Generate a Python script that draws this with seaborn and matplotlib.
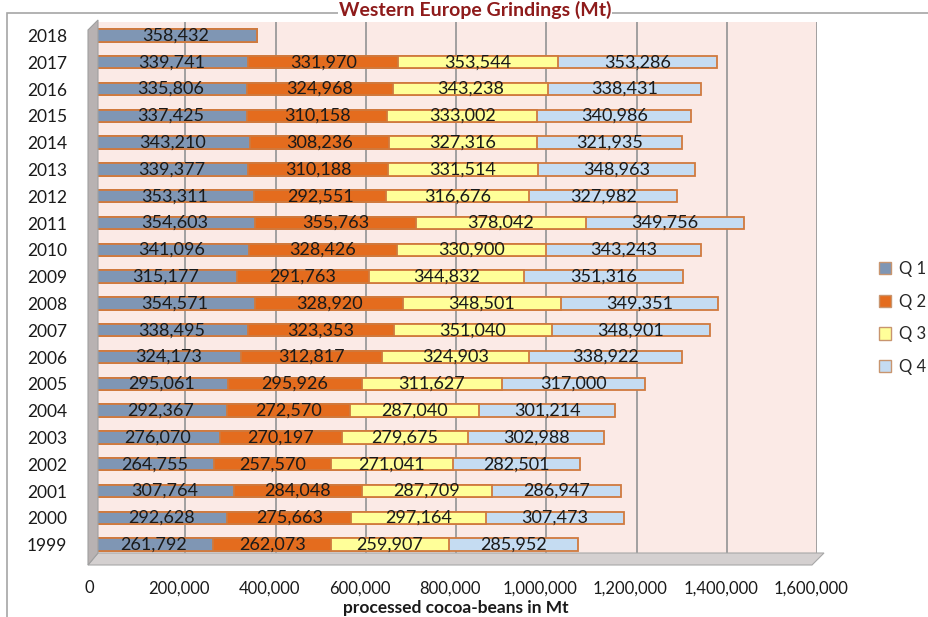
import numpy as np
import pandas as pd
import matplotlib.pyplot as plt
import seaborn as sns
from matplotlib.patches import Patch, Polygon, Rectangle
from matplotlib.ticker import FuncFormatter
from matplotlib.transforms import ScaledTranslation

# Grindings per quarter (Mt), Western Europe
years = [1999, 2000, 2001, 2002, 2003, 2004, 2005, 2006, 2007, 2008,
         2009, 2010, 2011, 2012, 2013, 2014, 2015, 2016, 2017, 2018]
q1 = [261792, 292628, 307764, 264755, 276070, 292367, 295061, 324173, 338495, 354571,
      315177, 341096, 354603, 353311, 339377, 343210, 337425, 335806, 339741, 358432]
q2 = [262073, 275663, 284048, 257570, 270197, 272570, 295926, 312817, 323353, 328920,
      291763, 328426, 355763, 292551, 310188, 308236, 310158, 324968, 331970, np.nan]
q3 = [259907, 297164, 287709, 271041, 279675, 287040, 311627, 324903, 351040, 348501,
      344832, 330900, 378042, 316676, 331514, 327316, 333002, 343238, 353544, np.nan]
q4 = [285952, 307473, 286947, 282501, 302988, 301214, 317000, 338922, 348901, 349351,
      351316, 343243, 349756, 327982, 348963, 321935, 340986, 338431, 353286, np.nan]

quarters = ["Q 1", "Q 2", "Q 3", "Q 4"]
colors = ["#7f96b4", "#e46c1e", "#ffff99", "#c5dcf2"]
edge = "#d07a3e"

df = pd.DataFrame({"year": [str(y) for y in years],
                   "Q 1": q1, "Q 2": q2, "Q 3": q3, "Q 4": q4})
cum = df[quarters].fillna(0).cumsum(axis=1)
cum["year"] = df["year"]
order = [str(y) for y in sorted(years, reverse=True)]

sns.set_theme(style="white")
plt.rcParams["font.family"] = ["Lato", "DejaVu Sans"]

W, H = 929, 617
fig = plt.figure(figsize=(W / 100, H / 100), dpi=100)
ax = fig.add_axes([95 / W, 1 - 558 / H, (817 - 95) / W, (558 - 22) / H])

# pseudo-3D walls and outer frame
fig.patches.append(Rectangle((7 / W, -0.1), 1.0, 1 - 13 / H + 0.1, transform=fig.transFigure,
                             fill=False, ec="#a6a6a6", lw=1.2, zorder=0))
fig.patches.append(Polygon([(88 / W, 1 - 565 / H), (812 / W, 1 - 565 / H), (824 / W, 1 - 553 / H),
                            (98 / W, 1 - 553 / H)], closed=True, transform=fig.transFigure,
                           fc="#d4d0d0", ec="#a8a8a8", lw=0.8, zorder=0))
fig.patches.append(Polygon([(88 / W, 1 - 565 / H), (88 / W, 1 - 30 / H), (98 / W, 1 - 20 / H),
                            (98 / W, 1 - 553 / H)], closed=True, transform=fig.transFigure,
                           fc="#b8b2b2", ec="#a0a0a0", lw=0.8, zorder=0))

# stacked bars: draw cumulative totals from the last quarter down to the first
for i in range(len(quarters) - 1, -1, -1):
    sns.barplot(data=cum, x=quarters[i], y="year", order=order, orient="h",
                color=colors[i], saturation=1, edgecolor=edge, linewidth=1.3,
                width=0.46, errorbar=None, ax=ax, zorder=3)

# value labels centred in each segment
for _, row in df.iterrows():
    yi = order.index(row["year"])
    left = 0
    for q in quarters:
        v = row[q]
        if pd.isna(v):
            continue
        ax.text(left + v / 2, yi, f"{int(v):,}", ha="center", va="center",
                fontsize=13, color="#1a1a1a", zorder=4)
        left += v

ax.set_xlim(0, 1600000)
ax.set_ylim(len(order) - 0.5, -0.5)
ax.set_facecolor("#fbeae6")
ax.set_axisbelow(True)
ax.xaxis.grid(True, color="#9a9a9a", lw=1.3)
ax.yaxis.grid(False)
for s in ax.spines.values():
    s.set_visible(False)

ax.xaxis.set_major_formatter(FuncFormatter(lambda x, p: f"{x:,.0f}"))
ax.set_xticks(np.arange(0, 1600001, 200000))
ax.tick_params(axis="x", length=0, pad=16, labelsize=12, colors="#1a1a1a")
ax.tick_params(axis="y", length=0, pad=20, labelsize=12.5, colors="#1a1a1a")
shift = ScaledTranslation(-0.06, 0, fig.dpi_scale_trans)
for lab in ax.get_xticklabels():
    lab.set_transform(lab.get_transform() + shift)
ax.set_ylabel("")
ax.set_xlabel("processed cocoa-beans in Mt", fontsize=12.5, fontweight="bold",
              color="#1a1a1a", labelpad=3)

fig.text(475 / W, 1 - 1 / H, "Western Europe Grindings (Mt)", ha="center", va="top",
         fontsize=14, fontweight="bold", color="#8e1b1b",
         bbox=dict(facecolor="white", edgecolor="none", pad=0.5))

handles = [Patch(facecolor=c, edgecolor="#c8956f") for c in colors]
fig.legend(handles, quarters, loc="center left", bbox_to_anchor=(864 / W, 1 - 318 / H),
           frameon=False, fontsize=12, handlelength=0.75, handleheight=0.75,
           handletextpad=0.45, labelspacing=1.0)

fig.savefig("out.png", dpi=100)
